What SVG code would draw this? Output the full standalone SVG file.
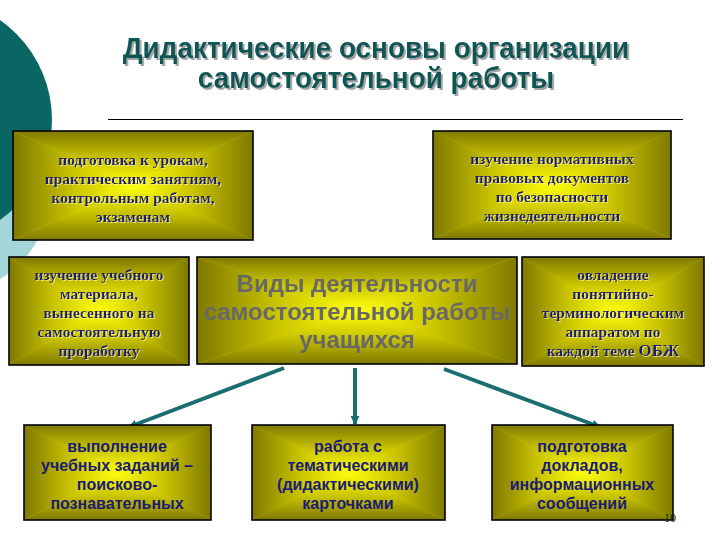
<svg xmlns="http://www.w3.org/2000/svg" xmlns:xlink="http://www.w3.org/1999/xlink" width="720" height="540" viewBox="0 0 720 540">
<defs>
<linearGradient id="gT" x1="0" y1="0" x2="0" y2="1"><stop offset="0" stop-color="#7f7900"/><stop offset="0.5" stop-color="#c9c400"/><stop offset="1" stop-color="#ffff10"/></linearGradient>
<linearGradient id="gB" x1="0" y1="1" x2="0" y2="0"><stop offset="0" stop-color="#7f7900"/><stop offset="0.5" stop-color="#c9c400"/><stop offset="1" stop-color="#ffff10"/></linearGradient>
<linearGradient id="gL" x1="0" y1="0" x2="1" y2="0"><stop offset="0" stop-color="#7f7900"/><stop offset="0.5" stop-color="#c9c400"/><stop offset="1" stop-color="#ffff10"/></linearGradient>
<linearGradient id="gR" x1="1" y1="0" x2="0" y2="0"><stop offset="0" stop-color="#7f7900"/><stop offset="0.5" stop-color="#c9c400"/><stop offset="1" stop-color="#ffff10"/></linearGradient>
<symbol id="boxfill" viewBox="0 0 100 100" preserveAspectRatio="none">
<rect width="100" height="100" fill="#c9c400"/>
<polygon points="0,0 100,0 50,50" fill="url(#gT)"/>
<polygon points="0,100 100,100 50,50" fill="url(#gB)"/>
<polygon points="0,0 0,100 50,50" fill="url(#gL)"/>
<polygon points="100,0 100,100 50,50" fill="url(#gR)"/>
</symbol>
<filter id="tshadow" x="-5%" y="-20%" width="110%" height="140%"><feDropShadow dx="2" dy="2" stdDeviation="0.6" flood-color="#9a9a9a" flood-opacity="0.9"/></filter>
<filter id="lshadow" x="-5%" y="-20%" width="110%" height="140%"><feDropShadow dx="1" dy="1" stdDeviation="0.4" flood-color="#fff8a0" flood-opacity="0.7"/></filter>
<filter id="soft" x="-5%" y="-20%" width="110%" height="140%"><feGaussianBlur stdDeviation="0.5"/></filter>
<marker id="ah" markerUnits="userSpaceOnUse" markerWidth="10" markerHeight="9" refX="8" refY="4.5" orient="auto"><path d="M0,0 L9,4.5 L0,9 Z" fill="#1a6e70"/></marker>
</defs>
<style>
.frame{fill:none;stroke:#000;stroke-width:1.6}
.title{font-family:"Liberation Sans",Arial,sans-serif;font-weight:bold;font-size:30px;fill:#0b5656;text-anchor:middle}
.ser{font-family:"Liberation Serif","Times New Roman",serif;font-weight:bold;font-size:15.5px;fill:#1b1b74;text-anchor:middle}
.san{font-family:"Liberation Sans",Arial,sans-serif;font-weight:bold;font-size:16px;fill:#1b1b74;text-anchor:middle}
.ctr{font-family:"Liberation Sans",Arial,sans-serif;font-weight:bold;font-size:24px;fill:#686868;text-anchor:middle}
.conn{stroke:#1a6e70;stroke-width:4;fill:none;marker-end:url(#ah)}
</style>
<rect width="720" height="540" fill="#ffffff"/>
<g id="decor">
<ellipse cx="-40" cy="172" rx="95" ry="118" fill="#a3d6d9"/>
<circle cx="-70" cy="120" r="122" fill="#0a6663"/>
</g>
<g id="title">
<text class="title" transform="translate(376,0) scale(0.93,1)" x="0" y="58" filter="url(#tshadow)">Дидактические основы организации</text>
<text class="title" transform="translate(376,0) scale(0.93,1)" x="0" y="88" filter="url(#tshadow)">самостоятельной работы</text>
<line x1="108" y1="119.5" x2="683" y2="119.5" stroke="#000" stroke-width="1.2"/>
</g>
<g id="connectors">
<line class="conn" x1="284" y1="368" x2="129" y2="427"/>
<line class="conn" x1="355" y1="368" x2="355" y2="424"/>
<line class="conn" x1="444" y1="369" x2="600" y2="427"/>
</g>
<g id="n1">
<use xlink:href="#boxfill" href="#boxfill" x="13" y="131" width="240" height="109"/>
<rect class="frame" x="13" y="131" width="240" height="109"/>
<text class="ser" x="133" y="165" filter="url(#lshadow)">подготовка к урокам,</text>
<text class="ser" x="133" y="184" filter="url(#lshadow)">практическим занятиям,</text>
<text class="ser" x="133" y="203" filter="url(#lshadow)">контрольным работам,</text>
<text class="ser" x="133" y="222" filter="url(#lshadow)">экзаменам</text>
</g>
<g id="n2">
<use xlink:href="#boxfill" href="#boxfill" x="433" y="131" width="238" height="108"/>
<rect class="frame" x="433" y="131" width="238" height="108"/>
<text class="ser" x="552" y="164" filter="url(#lshadow)">изучение нормативных</text>
<text class="ser" x="552" y="183" filter="url(#lshadow)">правовых документов</text>
<text class="ser" x="552" y="202" filter="url(#lshadow)">по безопасности</text>
<text class="ser" x="552" y="221" filter="url(#lshadow)">жизнедеятельности</text>
</g>
<g id="n3">
<use xlink:href="#boxfill" href="#boxfill" x="9" y="257" width="180" height="108"/>
<rect class="frame" x="9" y="257" width="180" height="108"/>
<text class="ser" x="99" y="280" filter="url(#lshadow)">изучение учебного</text>
<text class="ser" x="99" y="299" filter="url(#lshadow)">материала,</text>
<text class="ser" x="99" y="318" filter="url(#lshadow)">вынесенного на</text>
<text class="ser" x="99" y="337" filter="url(#lshadow)">самостоятельную</text>
<text class="ser" x="99" y="356" filter="url(#lshadow)">проработку</text>
</g>
<g id="n4">
<use xlink:href="#boxfill" href="#boxfill" x="197" y="257" width="320" height="107"/>
<rect class="frame" x="197" y="257" width="320" height="107"/>
<text class="ctr" x="357" y="292" filter="url(#soft)">Виды деятельности</text>
<text class="ctr" x="357" y="320" filter="url(#soft)">самостоятельной работы</text>
<text class="ctr" x="357" y="348" filter="url(#soft)">учащихся</text>
</g>
<g id="n5">
<use xlink:href="#boxfill" href="#boxfill" x="522" y="257" width="182" height="109"/>
<rect class="frame" x="522" y="257" width="182" height="109"/>
<text class="ser" x="613" y="280" filter="url(#lshadow)">овладение</text>
<text class="ser" x="613" y="299" filter="url(#lshadow)">понятийно-</text>
<text class="ser" x="613" y="318" filter="url(#lshadow)">терминологическим</text>
<text class="ser" x="613" y="337" filter="url(#lshadow)">аппаратом по</text>
<text class="ser" x="613" y="356" filter="url(#lshadow)">каждой теме <tspan font-size="17">ОБЖ</tspan></text>
</g>
<g id="n6">
<use xlink:href="#boxfill" href="#boxfill" x="24" y="425" width="187" height="95"/>
<rect class="frame" x="24" y="425" width="187" height="95"/>
<text class="san" x="117" y="452">выполнение</text>
<text class="san" x="117" y="471">учебных заданий –</text>
<text class="san" x="117" y="490">поисково-</text>
<text class="san" x="117" y="509">познавательных</text>
</g>
<g id="n7">
<use xlink:href="#boxfill" href="#boxfill" x="252" y="425" width="193" height="95"/>
<rect class="frame" x="252" y="425" width="193" height="95"/>
<text class="san" x="348" y="452">работа с</text>
<text class="san" x="348" y="471">тематическими</text>
<text class="san" x="348" y="490">(дидактическими)</text>
<text class="san" x="348" y="509">карточками</text>
</g>
<g id="n8">
<use xlink:href="#boxfill" href="#boxfill" x="492" y="425" width="181" height="95"/>
<rect class="frame" x="492" y="425" width="181" height="95"/>
<text class="san" x="582" y="452">подготовка</text>
<text class="san" x="582" y="471">докладов,</text>
<text class="san" x="582" y="490">информационных</text>
<text class="san" x="582" y="509">сообщений</text>
</g>
<text x="670" y="522" font-family="Liberation Serif,serif" font-size="12" fill="#222" text-anchor="middle">10</text>
</svg>
